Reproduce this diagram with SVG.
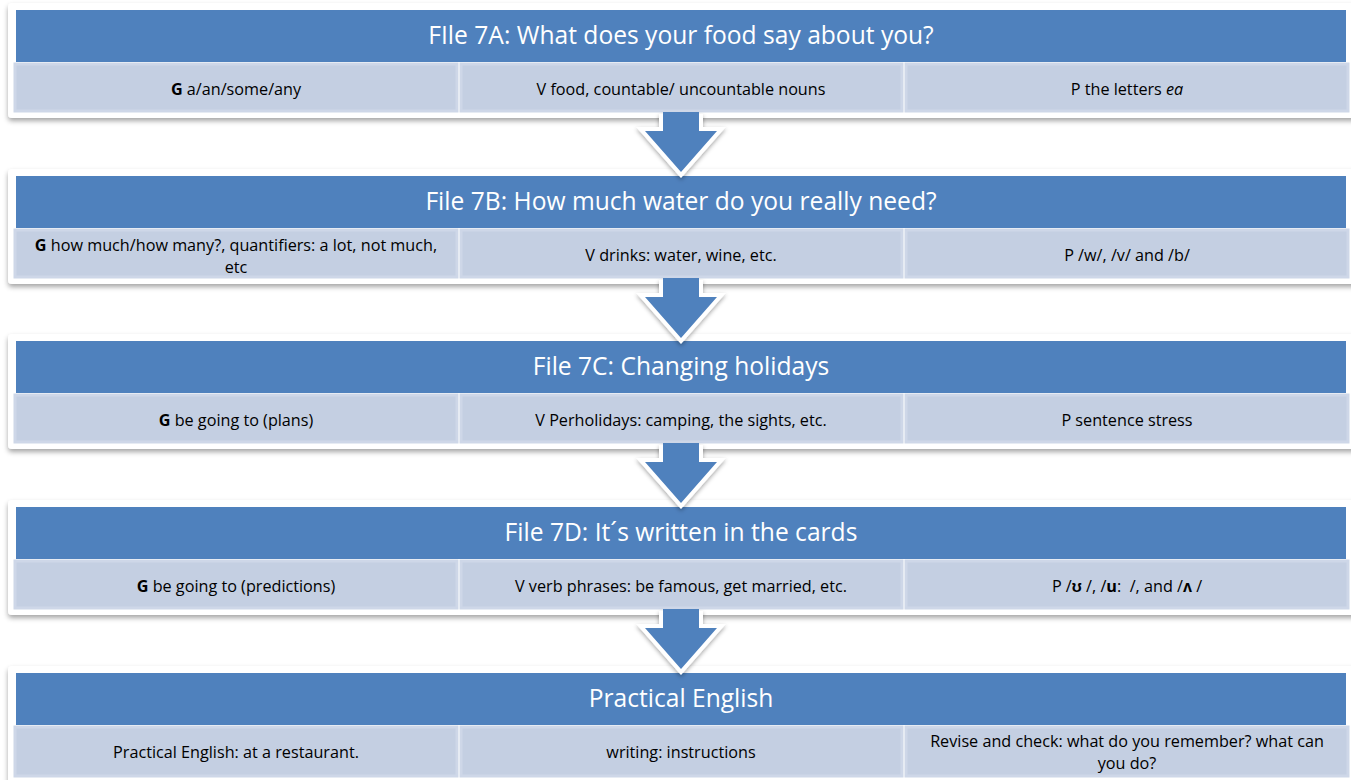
<svg xmlns="http://www.w3.org/2000/svg" width="1351" height="780" viewBox="0 0 1351 780">
<defs>
<filter id="sh" x="-5%" y="-20%" width="110%" height="150%">
<feDropShadow dx="0" dy="3" stdDeviation="2.5" flood-color="#000" flood-opacity="0.35"/>
</filter>
<filter id="ash" x="-30%" y="-30%" width="160%" height="160%">
<feDropShadow dx="0" dy="2" stdDeviation="2" flood-color="#000" flood-opacity="0.35"/>
</filter>
<style>
.cont{fill:#fff;filter:url(#sh)}
.hdr{fill:#4f81bd}
.sub{fill:#c4cfe2;stroke:#ced7e8;stroke-width:3}
.ht{font-family:"Open Sans","Liberation Sans",Arial,sans-serif;font-size:24.6px;fill:#fff;text-anchor:middle}
.st{font-family:"Open Sans","Liberation Sans",Arial,sans-serif;font-size:16.2px;fill:#000;text-anchor:middle}
.b{font-weight:bold}
.i{font-style:italic}
.aout{fill:none;stroke:#fff;stroke-width:8;stroke-linejoin:miter;filter:url(#ash)}
.ain{fill:#4f81bd}
</style>
</defs>

<g id="block-7A">
<rect class="cont" x="8" y="3" width="1352" height="115" rx="4"/>
<rect class="hdr" x="16" y="10" width="1330" height="52"/>
<text class="ht" x="681" y="44">FIle  7A: What does your food say about you?</text>
<rect class="sub" x="15" y="64" width="442" height="47"/>
<rect class="sub" x="461" y="64" width="441" height="47"/>
<rect class="sub" x="906" y="64" width="442" height="47"/>
<text class="st" x="236" y="95"><tspan class="b">G</tspan> a/an/some/any</text>
<text class="st" x="681" y="95">V food, countable/ uncountable nouns</text>
<text class="st" x="1127" y="95">P the letters <tspan class="i">ea</tspan></text>
</g>

<g id="block-7B">
<rect class="cont" x="8" y="169" width="1352" height="115" rx="4"/>
<rect class="hdr" x="16" y="176" width="1330" height="52"/>
<text class="ht" x="681" y="210">File 7B: How much water do you really need?</text>
<rect class="sub" x="15" y="230" width="442" height="47"/>
<rect class="sub" x="461" y="230" width="441" height="47"/>
<rect class="sub" x="906" y="230" width="442" height="47"/>
<text class="st" x="236" y="251"><tspan class="b">G</tspan> how much/how many?, quantifiers: a lot, not much,<tspan x="236" dy="22">etc</tspan></text>
<text class="st" x="681" y="261">V drinks: water, wine, etc.</text>
<text class="st" x="1127" y="261">P /w/, /v/ and /b/</text>
</g>

<g id="block-7C">
<rect class="cont" x="8" y="334" width="1352" height="115" rx="4"/>
<rect class="hdr" x="16" y="341" width="1330" height="52"/>
<text class="ht" x="681" y="375">File 7C: Changing holidays</text>
<rect class="sub" x="15" y="395" width="442" height="47"/>
<rect class="sub" x="461" y="395" width="441" height="47"/>
<rect class="sub" x="906" y="395" width="442" height="47"/>
<text class="st" x="236" y="426"><tspan class="b">G</tspan> be going to (plans)</text>
<text class="st" x="681" y="426">V Perholidays: camping, the sights, etc.</text>
<text class="st" x="1127" y="426">P sentence stress</text>
</g>

<g id="block-7D">
<rect class="cont" x="8" y="500" width="1352" height="115" rx="4"/>
<rect class="hdr" x="16" y="507" width="1330" height="52"/>
<text class="ht" x="681" y="541">File 7D: It´s written in the cards</text>
<rect class="sub" x="15" y="561" width="442" height="47"/>
<rect class="sub" x="461" y="561" width="441" height="47"/>
<rect class="sub" x="906" y="561" width="442" height="47"/>
<text class="st" x="236" y="592"><tspan class="b">G</tspan> be going to (predictions)</text>
<text class="st" x="681" y="592">V verb phrases: be famous, get married, etc.</text>
<text class="st" x="1127" y="592" xml:space="preserve">P /<tspan class="b">ʊ</tspan> /, /<tspan class="b">u</tspan>:  /, and /<tspan class="b">ʌ</tspan> /</text>
</g>

<g id="block-PE">
<rect class="cont" x="8" y="666" width="1352" height="125" rx="4"/>
<rect class="hdr" x="16" y="673" width="1330" height="52"/>
<text class="ht" x="681" y="707">Practical English</text>
<rect class="sub" x="15" y="727" width="442" height="49"/>
<rect class="sub" x="461" y="727" width="441" height="49"/>
<rect class="sub" x="906" y="727" width="442" height="49"/>
<text class="st" x="236" y="758">Practical English: at a restaurant.</text>
<text class="st" x="681" y="758">writing: instructions</text>
<text class="st" x="1127" y="747">Revise and check: what do you remember? what can<tspan x="1127" dy="22">you do?</tspan></text>
</g>

<g id="connectors">
<g transform="translate(0,0)">
<path class="aout" d="M663,114 V131 H645 L681,172 L717,131 H699 V114"/>
<path class="ain" d="M663,112 V131 H645 L681,172 L717,131 H699 V112 Z"/>
</g>
<g transform="translate(0,166)">
<path class="aout" d="M663,114 V131 H645 L681,172 L717,131 H699 V114"/>
<path class="ain" d="M663,112 V131 H645 L681,172 L717,131 H699 V112 Z"/>
</g>
<g transform="translate(0,331)">
<path class="aout" d="M663,114 V131 H645 L681,172 L717,131 H699 V114"/>
<path class="ain" d="M663,112 V131 H645 L681,172 L717,131 H699 V112 Z"/>
</g>
<g transform="translate(0,497)">
<path class="aout" d="M663,114 V131 H645 L681,172 L717,131 H699 V114"/>
<path class="ain" d="M663,112 V131 H645 L681,172 L717,131 H699 V112 Z"/>
</g>
</g>
</svg>
